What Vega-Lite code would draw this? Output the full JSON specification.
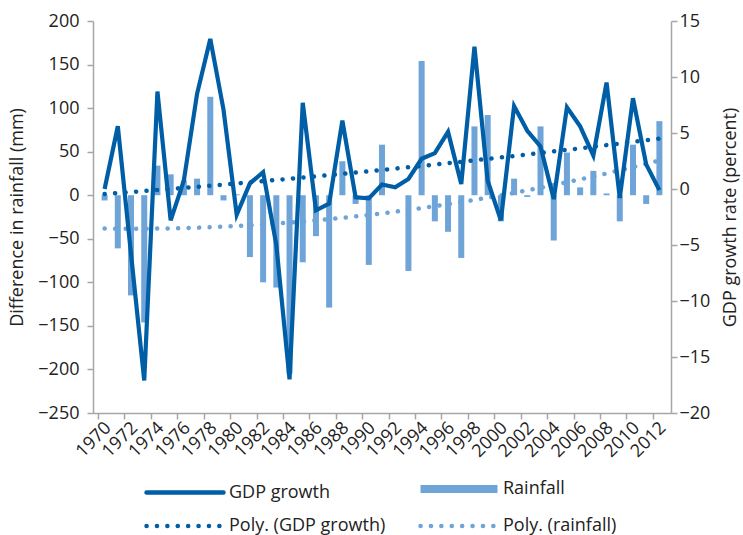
{
  "$schema": "https://vega.github.io/schema/vega-lite/v6.json",
  "width": 578,
  "height": 392,
  "autosize": {"type": "none"},
  "padding": {"left": 93, "top": 21, "right": 72, "bottom": 122},
  "background": "white",
  "config": {
    "font": "Open Sans",
    "view": {"stroke": null},
    "axis": {
      "labelFontSize": 18, "titleFontSize": 18, "titleFontWeight": "normal",
      "labelColor": "#222", "titleColor": "#222",
      "domainColor": "#a6a6a6", "tickColor": "#a6a6a6",
      "domainWidth": 1.5, "tickWidth": 1.5, "tickSize": 6, "grid": false
    }
  },
  "data": {"values": [
    {"year": 1970, "rain": -6, "gdp": 0.0, "rainTrend": -38.3, "gdpTrend": -0.45},
    {"year": 1971, "rain": -61, "gdp": 5.6, "rainTrend": -38.45, "gdpTrend": -0.36},
    {"year": 1972, "rain": -115, "gdp": -5.8, "rainTrend": -38.5, "gdpTrend": -0.27},
    {"year": 1973, "rain": -146, "gdp": -17.1, "rainTrend": -38.45, "gdpTrend": -0.18},
    {"year": 1974, "rain": 34, "gdp": 8.7, "rainTrend": -38.3, "gdpTrend": -0.09},
    {"year": 1975, "rain": 24, "gdp": -2.8, "rainTrend": -38.06, "gdpTrend": 0.0},
    {"year": 1976, "rain": 17, "gdp": 0.75, "rainTrend": -37.72, "gdpTrend": 0.1},
    {"year": 1977, "rain": 19, "gdp": 8.5, "rainTrend": -37.28, "gdpTrend": 0.19},
    {"year": 1978, "rain": 113, "gdp": 13.4, "rainTrend": -36.74, "gdpTrend": 0.29},
    {"year": 1979, "rain": -6, "gdp": 7.1, "rainTrend": -36.1, "gdpTrend": 0.39},
    {"year": 1980, "rain": 1, "gdp": -2.3, "rainTrend": -35.36, "gdpTrend": 0.49},
    {"year": 1981, "rain": -71, "gdp": 0.5, "rainTrend": -34.53, "gdpTrend": 0.6},
    {"year": 1982, "rain": -100, "gdp": 1.5, "rainTrend": -33.6, "gdpTrend": 0.7},
    {"year": 1983, "rain": -106, "gdp": -5.0, "rainTrend": -32.57, "gdpTrend": 0.81},
    {"year": 1984, "rain": -205, "gdp": -17.0, "rainTrend": -31.44, "gdpTrend": 0.91},
    {"year": 1985, "rain": -77, "gdp": 7.7, "rainTrend": -30.22, "gdpTrend": 1.02},
    {"year": 1986, "rain": -47, "gdp": -1.9, "rainTrend": -28.9, "gdpTrend": 1.13},
    {"year": 1987, "rain": -129, "gdp": -1.3, "rainTrend": -27.48, "gdpTrend": 1.24},
    {"year": 1988, "rain": 39, "gdp": 6.1, "rainTrend": -25.96, "gdpTrend": 1.35},
    {"year": 1989, "rain": -10, "gdp": -0.75, "rainTrend": -24.34, "gdpTrend": 1.47},
    {"year": 1990, "rain": -80, "gdp": -0.84, "rainTrend": -22.62, "gdpTrend": 1.58},
    {"year": 1991, "rain": 58, "gdp": 0.4, "rainTrend": -20.81, "gdpTrend": 1.7},
    {"year": 1992, "rain": 0, "gdp": 0.15, "rainTrend": -18.9, "gdpTrend": 1.82},
    {"year": 1993, "rain": -87, "gdp": 0.9, "rainTrend": -16.89, "gdpTrend": 1.94},
    {"year": 1994, "rain": 154, "gdp": 2.7, "rainTrend": -14.78, "gdpTrend": 2.06},
    {"year": 1995, "rain": -30, "gdp": 3.2, "rainTrend": -12.58, "gdpTrend": 2.18},
    {"year": 1996, "rain": -42, "gdp": 5.1, "rainTrend": -10.28, "gdpTrend": 2.31},
    {"year": 1997, "rain": -72, "gdp": 0.45, "rainTrend": -7.88, "gdpTrend": 2.43},
    {"year": 1998, "rain": 79, "gdp": 12.7, "rainTrend": -5.38, "gdpTrend": 2.56},
    {"year": 1999, "rain": 92, "gdp": 0.74, "rainTrend": -2.78, "gdpTrend": 2.69},
    {"year": 2000, "rain": -30, "gdp": -2.8, "rainTrend": -0.08, "gdpTrend": 2.82},
    {"year": 2001, "rain": 19, "gdp": 7.4, "rainTrend": 2.71, "gdpTrend": 2.95},
    {"year": 2002, "rain": -2, "gdp": 5.2, "rainTrend": 5.6, "gdpTrend": 3.09},
    {"year": 2003, "rain": 79, "gdp": 3.8, "rainTrend": 8.59, "gdpTrend": 3.22},
    {"year": 2004, "rain": -52, "gdp": -0.9, "rainTrend": 11.68, "gdpTrend": 3.36},
    {"year": 2005, "rain": 49, "gdp": 7.3, "rainTrend": 14.86, "gdpTrend": 3.5},
    {"year": 2006, "rain": 9, "gdp": 5.6, "rainTrend": 18.14, "gdpTrend": 3.63},
    {"year": 2007, "rain": 28, "gdp": 3.0, "rainTrend": 21.53, "gdpTrend": 3.78},
    {"year": 2008, "rain": 2, "gdp": 9.5, "rainTrend": 25.0, "gdpTrend": 3.92},
    {"year": 2009, "rain": -30, "gdp": -0.8, "rainTrend": 28.58, "gdpTrend": 4.06},
    {"year": 2010, "rain": 58, "gdp": 8.1, "rainTrend": 32.26, "gdpTrend": 4.21},
    {"year": 2011, "rain": -10, "gdp": 2.2, "rainTrend": 36.03, "gdpTrend": 4.35},
    {"year": 2012, "rain": 85, "gdp": -0.1, "rainTrend": 39.9, "gdpTrend": 4.5}
  ]},
  "encoding": {
    "x": {
      "field": "year", "type": "quantitative",
      "scale": {"domain": [1969.5, 2012.5], "nice": false, "zero": false},
      "axis": {
        "title": null,
        "values": [1969.5, 1971.5, 1973.5, 1975.5, 1977.5, 1979.5, 1981.5, 1983.5, 1985.5, 1987.5, 1989.5, 1991.5, 1993.5, 1995.5, 1997.5, 1999.5, 2001.5, 2003.5, 2005.5, 2007.5, 2009.5, 2011.5],
        "labelExpr": "format(datum.value + 0.5, 'd')",
        "labelOffset": 10,
        "labelAngle": -45, "labelAlign": "right", "labelBaseline": "middle",
        "labelPadding": 6, "labelOverlap": false, "labelFlush": false, "labelBound": false
      }
    }
  },
  "layer": [
    {
      "mark": {"type": "bar", "width": 6},
      "encoding": {
        "y": {
          "field": "rain", "type": "quantitative",
          "scale": {"domain": [-250, 200], "nice": false},
          "axis": {
            "orient": "left",
            "values": [-250, -200, -150, -100, -50, 0, 50, 100, 150, 200],
            "title": "Difference in rainfall (mm)",
            "labelPadding": 8, "titlePadding": 11
          }
        },
        "color": {
          "datum": "Rainfall",
          "scale": {"domain": ["GDP growth", "Poly. (GDP growth)", "Rainfall", "Poly. (rainfall)"], "range": ["#005EA6", "#005EA6", "#6EA4D8", "#6EA4D8"]},
          "legend": {
            "orient": "none", "legendX": 83, "legendY": 459,
            "title": null, "columns": 2, "padding": 0,
            "symbolType": "M-5,0H5", "symbolSize": 237,
            "symbolStrokeWidth": 4,
            "labelFontSize": 18, "labelColor": "#222", "labelFont": "Open Sans",
            "labelOffset": 35, "rowPadding": 12, "columnPadding": 18,
            "encode": {
              "symbols": {
                "update": {
                  "stroke": {"signal": "indexof(datum.value, 'GDP') >= 0 ? '#005EA6' : '#6EA4D8'"},
                  "fill": {"value": "transparent"},
                  "strokeWidth": {"signal": "datum.value === 'Rainfall' ? 8 : 4.5"},
                  "strokeDash": {"signal": "indexof(datum.value, 'Poly') === 0 ? [0.1, 10.3] : [1, 0]"},
                  "strokeCap": {"signal": "datum.value === 'Rainfall' ? 'butt' : 'round'"},
                  "opacity": {"value": 1}
                }
              }
            }
          }
        }
      }
    },
    {
      "mark": {"type": "line", "strokeWidth": 4.5, "strokeDash": [0.1, 10.4], "strokeCap": "round"},
      "encoding": {
        "y": {"field": "rainTrend", "type": "quantitative", "scale": {"domain": [-250, 200], "nice": false}, "axis": null},
        "color": {"datum": "Poly. (rainfall)"}
      }
    },
    {
      "mark": {"type": "line", "strokeWidth": 4.2},
      "encoding": {
        "y": {
          "field": "gdp", "type": "quantitative",
          "scale": {"domain": [-20, 15], "nice": false},
          "axis": {
            "orient": "right",
            "values": [-20, -15, -10, -5, 0, 5, 10, 15],
            "labelExpr": "datum.value >= 0 ? '\u2002' + datum.label : datum.label",
            "title": "GDP growth rate (percent)",
            "titleAngle": 270, "titleBaseline": "top",
            "labelPadding": 2, "titlePadding": 12
          }
        },
        "color": {"datum": "GDP growth"}
      }
    },
    {
      "mark": {"type": "line", "strokeWidth": 4.5, "strokeDash": [0.1, 10.4], "strokeCap": "round"},
      "encoding": {
        "y": {"field": "gdpTrend", "type": "quantitative", "scale": {"domain": [-20, 15], "nice": false}, "axis": null},
        "color": {"datum": "Poly. (GDP growth)"}
      }
    }
  ],
  "resolve": {"scale": {"y": "independent"}}
}
